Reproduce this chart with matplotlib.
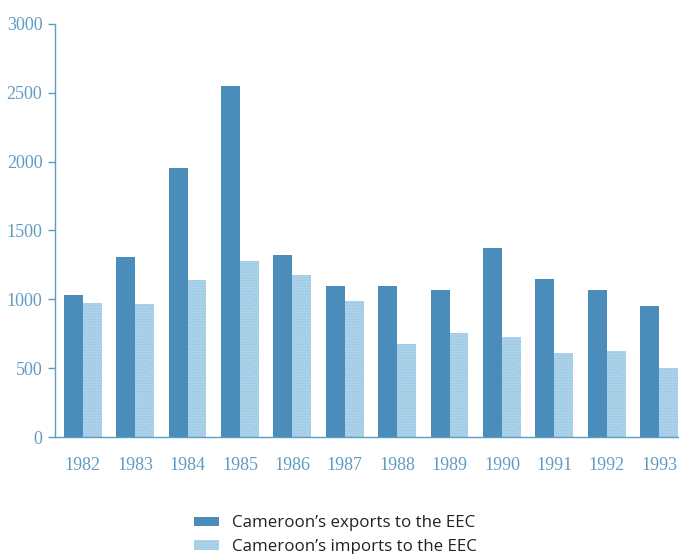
import numpy as np
import matplotlib
matplotlib.use("Agg")
import matplotlib.pyplot as plt
from matplotlib.patches import Patch

# data
years = ["1982", "1983", "1984", "1985", "1986", "1987",
         "1988", "1989", "1990", "1991", "1992", "1993"]
exports = [1030, 1310, 1950, 2550, 1325, 1095, 1095, 1070, 1370, 1150, 1065, 955]
imports = [970, 965, 1140, 1280, 1175, 990, 675, 755, 730, 610, 625, 505]

dark = "#4a8cba"
light = "#acd3ea"
axcol = "#5d9dc4"

plt.rcParams['hatch.linewidth'] = 0.6

fig = plt.figure(figsize=(6.79, 5.54), dpi=100)
ax = fig.add_axes([0.081, 0.211, 0.919, 0.746])

x = np.arange(len(years))
w = 0.36
ax.bar(x - w/2, exports, w, color=dark, linewidth=0)
ax.bar(x + w/2, imports, w, color=light, edgecolor="#95c3e0", hatch="......", linewidth=0)

ax.set_ylim(0, 3000)
ax.set_xlim(-0.53, 11.38)
ax.set_yticks(range(0, 3001, 500))
ax.set_xticks(x)
ax.set_xticklabels(years)

for s in ["top", "right"]:
    ax.spines[s].set_visible(False)
ax.spines["left"].set_color(axcol)
ax.spines["bottom"].set_color(axcol)
ax.spines["left"].set_linewidth(1.0)
ax.spines["bottom"].set_linewidth(1.0)

ax.tick_params(axis="y", colors=axcol, length=5, width=1, pad=4)
ax.tick_params(axis="x", colors=axcol, length=0, pad=14)
for lab in ax.get_xticklabels() + ax.get_yticklabels():
    lab.set_family("Liberation Serif")
    lab.set_fontsize(13)
    lab.set_color("#5f9cc2")

handles = [Patch(facecolor=dark, linewidth=0),
           Patch(facecolor=light, edgecolor="#95c3e0", hatch="......", linewidth=0)]
fig.legend(handles, ["Cameroon\u2019s exports to the EEC", "Cameroon\u2019s imports to the EEC"],
           loc="upper left", bbox_to_anchor=(0.273, 0.085), frameon=False,
           prop={"family": "Open Sans", "size": 12.2}, handlelength=1.5, handleheight=0.5,
           handletextpad=0.75, labelspacing=0.45, borderpad=0, labelcolor="#222222")

fig.savefig("out.png", dpi=100)
